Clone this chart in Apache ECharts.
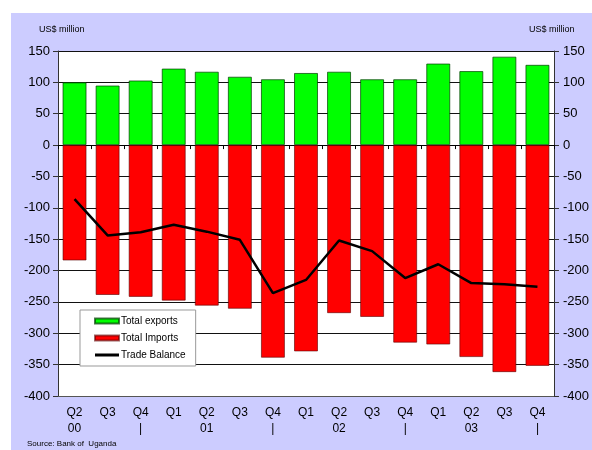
<!DOCTYPE html>
<html>
<head>
<meta charset="utf-8">
<script src="https://cdn.jsdelivr.net/npm/echarts@6/dist/echarts.min.js"></script>
<style>html,body{margin:0;padding:0;background:#fff;}#c{width:592px;height:450px;}</style>
</head>
<body>
<div id="c"></div>
<script>
var categories = ['Q2\n00','Q3','Q4\n|','Q1','Q2\n01','Q3','Q4\n|','Q1','Q2\n02','Q3','Q4\n|','Q1','Q2\n03','Q3','Q4\n|'];
var totalExports = [100, 95, 103, 122, 117, 109, 105, 115, 117, 105, 105, 130, 118, 141, 128];
var totalImports = [-184, -239, -242, -248, -256, -261, -339, -329, -268, -274, -315, -318, -338, -362, -352];
var tradeBalance = [-86, -144, -139, -127, -138, -151, -236, -215, -152, -169, -212, -190, -220, -222, -226];
var yTicks = {min: -400, max: 150, interval: 50};

var font = 'Liberation Sans, Arial, sans-serif';
var chart = echarts.init(document.getElementById('c'));
function yAx(pos, margin) {
  return {
    type: 'value', position: pos, min: yTicks.min, max: yTicks.max, interval: yTicks.interval,
    axisLine: {show: true, lineStyle: {color: '#333', width: 1}},
    axisTick: {show: true, length: 5, lineStyle: {color: '#333'}},
    axisLabel: {color: '#000', fontSize: 13, fontFamily: font, margin: margin},
    splitLine: {show: pos === 'left', lineStyle: {color: '#111', width: 1}}
  };
}
chart.setOption({
  animation: false,
  backgroundColor: '#fff',
  graphic: [
    {type: 'rect', z: -10, left: 11, top: 13, shape: {width: 581, height: 437}, style: {fill: '#CCCCFF'}},
    {type: 'text', left: 39, top: 25, style: {text: 'US$ million', fontSize: 9, fontFamily: font, fill: '#000'}},
    {type: 'text', left: 529, top: 25, style: {text: 'US$ million', fontSize: 9, fontFamily: font, fill: '#000'}},
    {type: 'text', left: 27, top: 440, style: {text: 'Source: Bank of  Uganda', fontSize: 8, fontFamily: font, fill: '#000'}}
  ],
  grid: {left: 58, right: 37, top: 51, bottom: 54, show: true, backgroundColor: '#fff', borderWidth: 0},
  legend: {
    orient: 'vertical', left: 80, top: 310, padding: [6, 10, 6, 14], itemGap: 7,
    backgroundColor: '#fff', borderColor: '#999', borderWidth: 1,
    itemWidth: 24, itemHeight: 5,
    textStyle: {color: '#000', fontSize: 10, fontFamily: font, padding: [0, 0, 0, -3]},
    data: [
      {name: 'Total exports', icon: 'rect'},
      {name: 'Total Imports', icon: 'rect'},
      {name: 'Trade Balance', icon: 'path://M0 0 H24 V3 H0 Z', itemStyle: {color: '#000', borderWidth: 0}}
    ]
  },
  xAxis: [
    {
      type: 'category', data: categories, position: 'bottom',
      axisLine: {onZero: false, show: true, lineStyle: {color: '#555'}},
      axisTick: {show: false},
      axisLabel: {interval: 0, color: '#000', fontSize: 12, fontFamily: font, lineHeight: 16, margin: 9}
    },
    {
      type: 'category', data: categories, position: 'top',
      axisLine: {onZero: true, show: true, lineStyle: {color: '#000'}},
      axisTick: {show: true, inside: true, length: 4, lineStyle: {color: '#000'}},
      axisLabel: {show: false}
    }
  ],
  yAxis: [yAx('left', 8), yAx('right', 9)],
  series: [
    {
      name: 'Total exports', type: 'bar', data: totalExports, barWidth: 24, barGap: '-100%',
      itemStyle: {color: '#00FF00', borderColor: 'rgba(0,60,0,0.7)', borderWidth: 1}
    },
    {
      name: 'Total Imports', type: 'bar', data: totalImports, barWidth: 24,
      itemStyle: {color: '#FF0000', borderColor: 'rgba(90,0,0,0.6)', borderWidth: 1}
    },
    {
      name: 'Trade Balance', type: 'line', data: tradeBalance, symbol: 'none', z: 5,
      lineStyle: {color: '#000', width: 2.5}, itemStyle: {color: '#000'}
    }
  ]
});
</script>
</body>
</html>
